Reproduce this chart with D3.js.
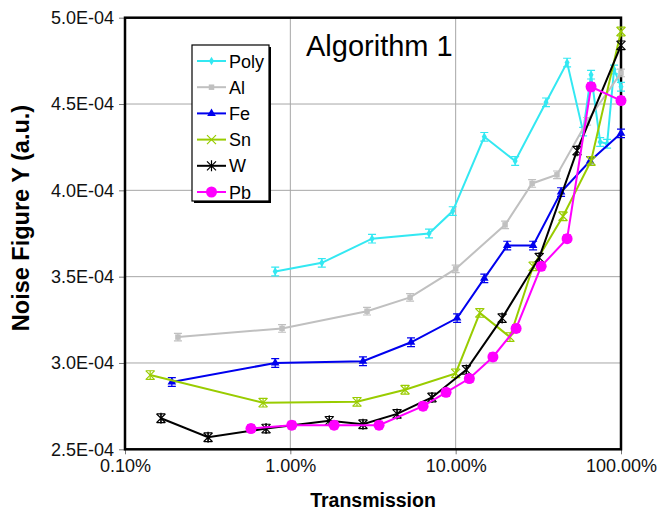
<!DOCTYPE html>
<html>
<head>
<meta charset="utf-8">
<script src="https://cdn.jsdelivr.net/npm/d3@7"></script>
<style>
  body { margin: 0; background: #fff; }
  text { font-family: "Liberation Sans", Arial, sans-serif; }
</style>
</head>
<body>
<div id="chart"></div>
<script>
// transmission in %, noise figure in units of 1E-04
const polyX = [0.81, 1.55, 3.12, 6.9, 9.6, 14.9, 22.9, 35.2, 47.2, 59, 65.9, 74.8, 82.4, 90.8, 100]
const polyY = [3.53, 3.58, 3.72, 3.75, 3.88, 4.31, 4.17, 4.51, 4.74, 4.34, 4.67, 4.28, 4.27, 4.70, 4.60]
const alX = [0.209, 0.891, 2.91, 5.30, 10.0, 19.9, 29.0, 41.0, 62.4, 100]
const alY = [3.15, 3.20, 3.30, 3.38, 3.545, 3.80, 4.04, 4.09, 4.40, 4.68]
const feX = [0.192, 0.81, 2.75, 5.37, 10.2, 14.9, 20.5, 29.4, 43.4, 65.0, 100]
const feY = [2.89, 3.00, 3.01, 3.12, 3.26, 3.49, 3.68, 3.68, 3.99, 4.17, 4.33]
const snX = [0.142, 0.684, 2.53, 4.94, 10.0, 14.0, 21.3, 29.4, 44.6, 65.9, 100]
const snY = [2.93, 2.77, 2.775, 2.845, 2.94, 3.29, 3.15, 3.56, 3.85, 4.17, 4.92]
const wX = [0.165, 0.318, 0.713, 1.72, 2.75, 4.42, 7.19, 11.6, 19.1, 32.0, 54.2, 100]
const wY = [2.68, 2.57, 2.62, 2.665, 2.645, 2.705, 2.80, 2.96, 3.26, 3.61, 4.23, 4.84]
const pbX = [0.578, 1.02, 1.84, 3.44, 6.35, 8.75, 12.1, 16.8, 23.2, 32.9, 47.2, 65.9, 100]
const pbY = [2.62, 2.64, 2.64, 2.64, 2.75, 2.83, 2.91, 3.035, 3.20, 3.56, 3.72, 4.60, 4.52]
const errs = { Poly: 0.025, Al: 0.022, Fe: 0.025, Sn: 0.025, W: 0.025, Pb: 0.022 }

const xTicks = [0.1, 1, 10, 100]
const yTicks = [2.5, 3.0, 3.5, 4.0, 4.5, 5.0]

const series = [
    { name: "Poly", xs: polyX, ys: polyY, color: "#33e8f2", marker: "diamond" },
    { name: "Al",   xs: alX,   ys: alY,   color: "#c0c0c0", marker: "square" },
    { name: "Fe",   xs: feX,   ys: feY,   color: "#0000ee", marker: "triangle" },
    { name: "Sn",   xs: snX,   ys: snY,   color: "#99cc00", marker: "cross" },
    { name: "W",    xs: wX,    ys: wY,    color: "#000000", marker: "star" },
    { name: "Pb",   xs: pbX,   ys: pbY,   color: "#ff00ff", marker: "circle" }
]

const W = 663, H = 513
const plot = { left: 125, right: 621, top: 17.7, bottom: 449.3 }

const svg = d3.select("#chart").append("svg").attr("width", W).attr("height", H)

const x = d3.scaleLog().domain([0.1, 100]).range([plot.left, plot.right])
const y = d3.scaleLinear().domain([2.5, 5.0]).range([plot.bottom, plot.top])

// gridlines
svg.append("g").selectAll("line.vg").data([1, 10]).join("line")
    .attr("x1", d => x(d)).attr("x2", d => x(d))
    .attr("y1", plot.top).attr("y2", plot.bottom)
    .attr("stroke", "#a6a6a6").attr("stroke-width", 1)
svg.append("g").selectAll("line.hg").data([3.0, 3.5, 4.0, 4.5]).join("line")
    .attr("x1", plot.left).attr("x2", plot.right)
    .attr("y1", d => y(d)).attr("y2", d => y(d))
    .attr("stroke", "#a6a6a6").attr("stroke-width", 1)

// axes
const yAxis = d3.axisLeft(y).tickValues(yTicks).tickSize(6).tickPadding(5)
    .tickFormat(d => d.toFixed(1) + "E-04")
const gy = svg.append("g").attr("transform", `translate(${plot.left},0)`).call(yAxis)
gy.select(".domain").remove()
gy.selectAll("line").attr("stroke", "#777")
gy.selectAll("text").attr("font-size", 18).attr("fill", "#111")

const xAxis = d3.axisBottom(x).tickValues(xTicks).tickSize(5).tickPadding(5)
    .tickFormat(d => d.toFixed(2) + "%")
const gx = svg.append("g").attr("transform", `translate(0,${plot.bottom})`).call(xAxis)
gx.select(".domain").remove()
gx.selectAll("line").attr("stroke", "#777")
gx.selectAll("text").attr("font-size", 18).attr("fill", "#111")

// frame
svg.append("rect")
    .attr("x", plot.left).attr("y", plot.top)
    .attr("width", plot.right - plot.left).attr("height", plot.bottom - plot.top)
    .attr("fill", "none").attr("stroke", "#000").attr("stroke-width", 2.5)

// axis titles
svg.append("text").attr("x", 373).attr("y", 507).attr("text-anchor", "middle")
    .attr("font-size", 19.5).attr("font-weight", "bold").text("Transmission")
svg.append("text").attr("transform", "translate(29,218) rotate(-90)").attr("text-anchor", "middle")
    .attr("font-size", 23.5).attr("font-weight", "bold").text("Noise Figure Y (a.u.)")

svg.append("text").attr("x", 306).attr("y", 56).attr("font-size", 29).text("Algorithm 1")

function drawMarker(g, s, cx, cy, scale) {
    const c = s.color
    if (s.marker === "diamond") {
        g.append("path").attr("d", d3.symbol(d3.symbolDiamond, 22 * scale)())
            .attr("transform", `translate(${cx},${cy})`).attr("fill", c)
    } else if (s.marker === "square") {
        g.append("path").attr("d", d3.symbol(d3.symbolSquare, 30 * scale)())
            .attr("transform", `translate(${cx},${cy})`).attr("fill", c)
    } else if (s.marker === "triangle") {
        g.append("path").attr("d", d3.symbol(d3.symbolTriangle, 32 * scale)())
            .attr("transform", `translate(${cx},${cy})`).attr("fill", c)
    } else if (s.marker === "circle") {
        g.append("circle").attr("cx", cx).attr("cy", cy).attr("r", 5.5).attr("fill", c)
    } else {
        const r = 4.5
        const p = `M${cx - r},${cy - r}L${cx + r},${cy + r}M${cx - r},${cy + r}L${cx + r},${cy - r}` +
            (s.marker === "star" ? `M${cx},${cy - r - 1}L${cx},${cy + r + 1}` : "")
        g.append("path").attr("d", p).attr("stroke", c).attr("stroke-width", 1.2).attr("fill", "none")
    }
}

// series
series.forEach(s => {
    const g = svg.append("g")
    const pts = s.xs.map((v, i) => [v, s.ys[i]])
    const e = errs[s.name]
    // error bars
    pts.forEach(([px, py]) => {
        const cx = x(px), y1 = y(py + e), y2 = y(py - e)
        g.append("path")
            .attr("d", `M${cx},${y1}L${cx},${y2}M${cx - 4},${y1}L${cx + 4},${y1}M${cx - 4},${y2}L${cx + 4},${y2}`)
            .attr("stroke", s.color).attr("stroke-width", 1.2).attr("fill", "none")
    })
    g.append("path").datum(pts)
        .attr("d", d3.line().x(d => x(d[0])).y(d => y(d[1])))
        .attr("fill", "none").attr("stroke", s.color).attr("stroke-width", 2)
    pts.forEach(([px, py]) => drawMarker(g, s, x(px), y(py), 1))
})

// legend
const lg = svg.append("g")
lg.append("rect").attr("x", 194).attr("y", 47).attr("width", 77).attr("height", 156).attr("fill", "#000")
lg.append("rect").attr("x", 192).attr("y", 45).attr("width", 77).attr("height", 156)
    .attr("fill", "#fff").attr("stroke", "#000").attr("stroke-width", 1.2)
series.forEach((s, i) => {
    const ly = 61 + i * 26.2
    lg.append("line").attr("x1", 197).attr("x2", 226).attr("y1", ly).attr("y2", ly)
        .attr("stroke", s.color).attr("stroke-width", 2)
    drawMarker(lg, s, 211.5, ly, 1)
    lg.append("text").attr("x", 229).attr("y", ly + 6.5).attr("font-size", 18).text(s.name)
})
</script>
</body>
</html>
